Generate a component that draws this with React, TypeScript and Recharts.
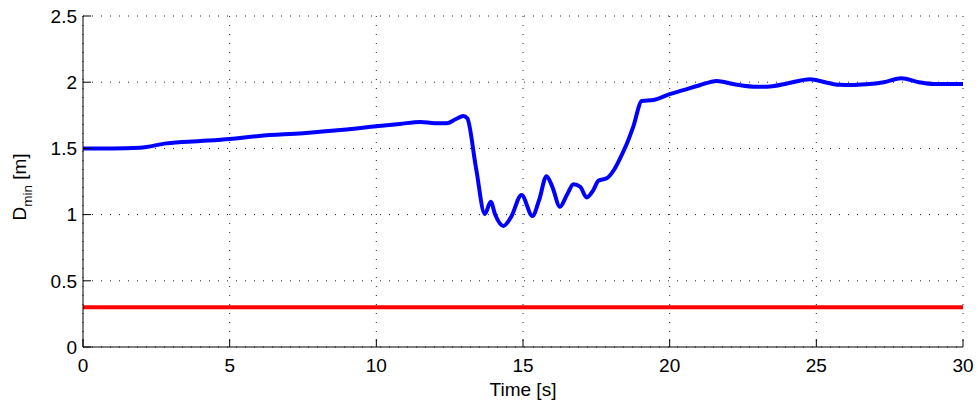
import React from 'react';
import { LineChart, Line, XAxis, YAxis, CartesianGrid } from 'recharts';

const times = [
  0, 1, 1.94, 2.85, 4, 5, 6, 7.5, 8.87, 10, 10.8, 11.5, 12, 12.4, 12.7, 12.97, 13.1, 13.4, 13.7,
  13.9, 14.05, 14.33, 14.6, 14.95, 15.32, 15.55, 15.8, 16.0, 16.26, 16.5, 16.72, 16.95, 17.17,
  17.4, 17.57, 17.85, 18.1, 18.31, 18.55, 18.76, 19.05, 19.45, 20, 20.47, 21, 21.6, 22.2, 23,
  23.5, 24, 24.79, 25.3, 25.8, 26.2, 26.7, 27.3, 27.9, 28.5, 29, 30,
];

const dmin = [
  1.5, 1.5, 1.505, 1.538, 1.555, 1.571, 1.594, 1.615, 1.64, 1.667, 1.685, 1.7, 1.69, 1.69, 1.72,
  1.745, 1.727, 1.35, 1.005, 1.097, 1.0, 0.914, 0.985, 1.148, 0.99, 1.11, 1.29, 1.21, 1.06, 1.15,
  1.23, 1.21, 1.13, 1.186, 1.256, 1.274, 1.337, 1.425, 1.54, 1.664, 1.858, 1.866, 1.91, 1.94,
  1.975, 2.01, 1.985, 1.965, 1.97, 1.99, 2.022, 2.0, 1.98, 1.978, 1.984, 2.0, 2.03, 2.0, 1.986,
  1.986,
];

const safetyDistance = 0.3;

const xTicks = [0, 5, 10, 15, 20, 25, 30];
const yTicks = [0, 0.5, 1, 1.5, 2, 2.5];

const data = times.map((t, i) => ({ t, dmin: dmin[i], limit: safetyDistance }));

const font = '"Liberation Sans", Arial, sans-serif';
const tickStyle = { fontSize: 19, fill: '#000', fontFamily: font };

const YLabel = () => (
  <text x={26} y={187} transform="rotate(-90 26 187)" textAnchor="middle" fontFamily={font} fontSize={19} fill="#000">
    D<tspan fontSize={13.5} dy={6}>min</tspan>
    <tspan dy={-6}> [m]</tspan>
  </text>
);

const XLabel = () => (
  <text x={523} y={396} textAnchor="middle" fontFamily={font} fontSize={19} fill="#000">
    Time [s]
  </text>
);

export default function App() {
  return (
    <div style={{ position: 'absolute', left: 0, top: 0, background: '#fff' }}>
      <LineChart width={978} height={408} data={data} margin={{ top: 16, right: 15, bottom: 21, left: 33 }}>
        <CartesianGrid stroke="#222" strokeDasharray="1 8" />
        <XAxis
          dataKey="t"
          type="number"
          domain={[0, 30]}
          ticks={xTicks}
          height={40}
          stroke="#000"
          tickSize={-8}
          tickMargin={20}
          tick={tickStyle}
          label={{ content: () => <XLabel /> }}
        />
        <XAxis
          xAxisId="top"
          orientation="top"
          dataKey="t"
          type="number"
          domain={[0, 30]}
          ticks={xTicks}
          height={0}
          stroke="#000"
          tickSize={-8}
          tickFormatter={() => ''}
        />
        <YAxis
          domain={[0, 2.5]}
          ticks={yTicks}
          width={50}
          stroke="#000"
          tickSize={-8}
          tickMargin={14}
          tick={tickStyle}
          label={{ content: () => <YLabel /> }}
        />
        <YAxis
          yAxisId="right"
          orientation="right"
          domain={[0, 2.5]}
          ticks={yTicks}
          width={0}
          stroke="#000"
          tickSize={-8}
          tickFormatter={() => ''}
        />
        <Line dataKey="limit" stroke="#ff0000" strokeWidth={4} dot={false} isAnimationActive={false} />
        <Line type="monotone" dataKey="dmin" stroke="#0000ff" strokeWidth={4} dot={false} isAnimationActive={false} />
      </LineChart>
    </div>
  );
}
